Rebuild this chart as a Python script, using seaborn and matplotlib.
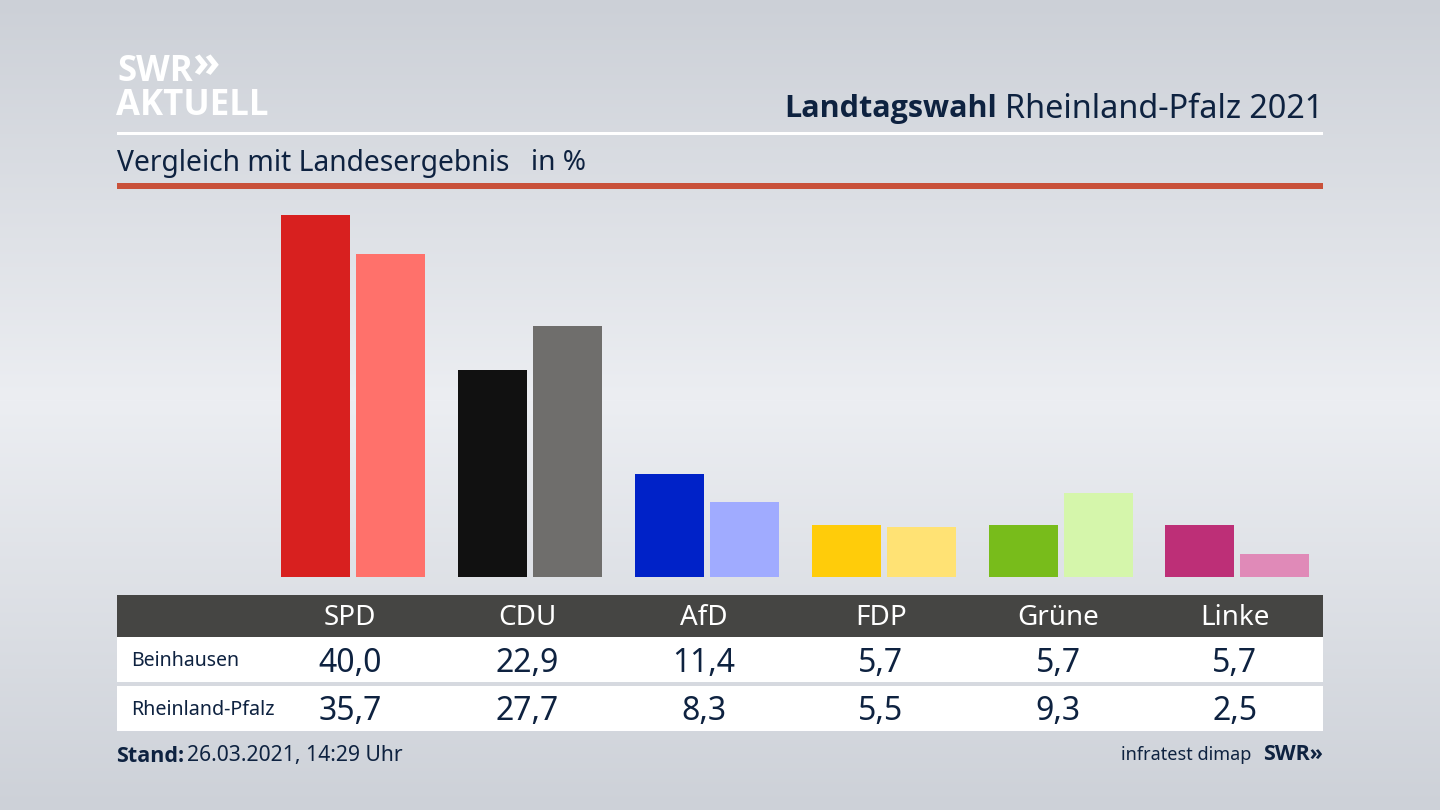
import numpy as np
import pandas as pd
import seaborn as sns
from matplotlib import pyplot as plt
from matplotlib.patches import Rectangle

parties = ["SPD", "CDU", "AfD", "FDP", "Grüne", "Linke"]
beinhausen = [40.0, 22.9, 11.4, 5.7, 5.7, 5.7]
rheinland_pfalz = [35.7, 27.7, 8.3, 5.5, 9.3, 2.5]
colors_local = ["#d8201f", "#111111", "#0022c8", "#ffcc0a", "#78bc1b", "#bd2f77"]
colors_state = ["#ff716b", "#6f6e6c", "#a0abff", "#ffe274", "#d5f6ab", "#e08ab8"]

W, H = 1440, 810
NAVY = "#0e2240"
BOLD = ['Open Sans', 'DejaVu Sans']

sns.set_theme(style="white")
plt.rcParams['font.family'] = ['Noto Sans', 'DejaVu Sans']

fig = plt.figure(figsize=(14.4, 8.1), dpi=100)

# background in pixel coordinates, everything but the bars goes here
bg = fig.add_axes([0, 0, 1, 1])
bg.set_xlim(0, W)
bg.set_ylim(H, 0)
bg.axis("off")

stops_y = [0, 400, 810]
stops_c = np.array([[204, 208, 215], [236, 238, 242], [205, 209, 216]]) / 255
grad = np.stack([np.interp(np.arange(H), stops_y, stops_c[:, i]) for i in range(3)], axis=1)
bg.imshow(grad[:, None, :], extent=[0, W, H, 0], aspect="auto", zorder=0)


def band(y0, y1, color):
    bg.add_patch(Rectangle((117, y0), 1206, y1 - y0, color=color, lw=0, zorder=1))


band(132, 135, "white")
band(183, 189, "#c9513a")
band(595, 637, "#454543")
band(637, 682, "white")
band(686, 731, "white")

# logo
s = bg.text(117, 72, "SWR", color="white", fontsize=25, family=BOLD, fontweight="bold", va="center", ha="left")
fig.canvas.draw()
bg.text(s.get_window_extent().x1, 66, "»", color="white", fontsize=32, family=BOLD, fontweight="bold", va="center", ha="left")
bg.text(116, 106, "AKTUELL", color="white", fontsize=25, family=BOLD, fontweight="bold", va="center", ha="left")

# title, right aligned in two pieces
t = bg.text(1323, 109, "Rheinland-Pfalz 2021", color=NAVY, fontsize=23.3, va="center", ha="right")
fig.canvas.draw()
x0 = t.get_window_extent().x0
bg.text(x0 - 8, 109, "Landtagswahl", color=NAVY, fontsize=22, family=BOLD, fontweight="bold", va="center", ha="right")

bg.text(117, 163, "Vergleich mit Landesergebnis", color=NAVY, fontsize=20.35, va="center", ha="left")
bg.text(531, 163, "in %", color=NAVY, fontsize=20.2, va="center", ha="left")

# table
col_x = [350 + 177 * i for i in range(len(parties))]
for x, party, a, b in zip(col_x, parties, beinhausen, rheinland_pfalz):
    bg.text(x, 618, party, color="white", fontsize=20, va="center", ha="center")
    bg.text(x, 663, f"{a:.1f}".replace(".", ","), color=NAVY, fontsize=23, va="center", ha="center")
    bg.text(x, 712, f"{b:.1f}".replace(".", ","), color=NAVY, fontsize=23, va="center", ha="center")
bg.text(131, 661, "Beinhausen", color=NAVY, fontsize=14, va="center", ha="left")
bg.text(131, 710, "Rheinland-Pfalz", color=NAVY, fontsize=14.2, va="center", ha="left")

# footer
s = bg.text(116, 756, "Stand:", color=NAVY, fontsize=15.5, family=BOLD, fontweight="bold", va="center", ha="left")
fig.canvas.draw()
bg.text(s.get_window_extent().x1 + 3, 756, "26.03.2021, 14:29 Uhr", color=NAVY, fontsize=15.2, va="center", ha="left")
bg.text(1323, 755, "SWR»", color=NAVY, fontsize=15.5, family=BOLD, fontweight="bold", va="center", ha="right")
bg.text(1251, 755, "infratest dimap", color=NAVY, fontsize=13, va="center", ha="right")

# bars: 176.8 px per party, 9.05 px per percent, baseline at y=577
ymax = 42
ax_top = 577 - ymax * 9.05
ax = fig.add_axes([265 / W, 1 - 577 / H, 1060.8 / W, (577 - ax_top) / H])
df = pd.DataFrame({
    "Partei": parties * 2,
    "Gebiet": ["Beinhausen"] * 6 + ["Rheinland-Pfalz"] * 6,
    "Prozent": beinhausen + rheinland_pfalz,
})
sns.barplot(data=df, x="Partei", y="Prozent", hue="Gebiet", order=parties,
            width=150 / 177, gap=0.08, legend=False, saturation=1, linewidth=0, ax=ax)
for container, colors in zip(ax.containers, [colors_local, colors_state]):
    for bar, c in zip(container, colors):
        bar.set_facecolor(c)
ax.set_xlim(-0.5, 5.5)
ax.set_ylim(0, ymax)
ax.axis("off")

fig.savefig("out.png", dpi=100)
